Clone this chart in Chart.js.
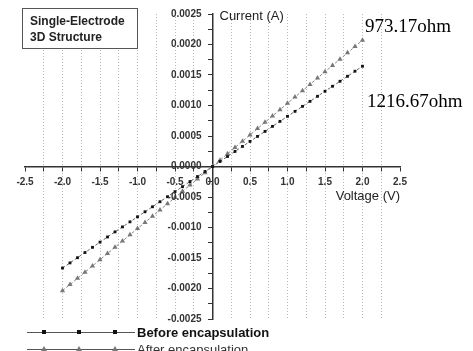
<!DOCTYPE html>
<html>
<head>
<meta charset="utf-8">
<script src="https://cdn.jsdelivr.net/npm/chart.js"></script>
<style>
  html, body { margin: 0; padding: 0; background: #fff; }
  #chart { display: block; }
</style>
</head>
<body>
<canvas id="chart" width="473" height="351"></canvas>
<script>
// voltage sweep (V)
const voltages = [
    -2.0, -1.9, -1.8, -1.7, -1.6, -1.5, -1.4, -1.3, -1.2, -1.1, -1.0,
    -0.9, -0.8, -0.7, -0.6, -0.5, -0.4, -0.3, -0.2, -0.1, 0.0,
    0.1, 0.2, 0.3, 0.4, 0.5, 0.6, 0.7, 0.8, 0.9, 1.0,
    1.1, 1.2, 1.3, 1.4, 1.5, 1.6, 1.7, 1.8, 1.9, 2.0
];

// current (A) before encapsulation (~1216.67 ohm)
const beforeCurrent = [
    -0.001665, -0.001580, -0.001495, -0.001410, -0.001325, -0.001240, -0.001155, -0.001072, -0.000990, -0.000907, -0.000825,
    -0.000742, -0.000660, -0.000577, -0.000495, -0.000412, -0.000330, -0.000247, -0.000165, -0.000082, 0.000000,
    0.000082, 0.000164, 0.000247, 0.000329, 0.000411, 0.000493, 0.000575, 0.000658, 0.000740, 0.000822,
    0.000904, 0.000986, 0.001068, 0.001151, 0.001233, 0.001315, 0.001397, 0.001479, 0.001562, 0.001644
];

// current (A) after encapsulation (~973.17 ohm)
const afterCurrent = [
    -0.002035, -0.001935, -0.001833, -0.001732, -0.001630, -0.001528, -0.001426, -0.001324, -0.001222, -0.001120, -0.001018,
    -0.000916, -0.000815, -0.000713, -0.000611, -0.000509, -0.000407, -0.000305, -0.000204, -0.000102, 0.000000,
    0.000104, 0.000207, 0.000311, 0.000414, 0.000518, 0.000621, 0.000725, 0.000828, 0.000932, 0.001035,
    0.001139, 0.001242, 0.001346, 0.001449, 0.001553, 0.001656, 0.001760, 0.001863, 0.001967, 0.002070
];

const xTickLabels = ['-2.5', '-2.0', '-1.5', '-1.0', '-0.5', '0.0', '0.5', '1.0', '1.5', '2.0', '2.5'];
const yTickLabels = ['-0.0025', '-0.0020', '-0.0015', '-0.0010', '-0.0005', '0.0000', '0.0005', '0.0010', '0.0015', '0.0020', '0.0025'];
const seriesNames = ['Before encapsulation', 'After encapsulation'];
const resistanceNotes = ['973.17ohm', '1216.67ohm'];

const FONT = "'Liberation Sans', Arial, sans-serif";
const SERIF = "'Liberation Serif', 'Times New Roman', serif";

function pairs(xs, ys) {
    return xs.map((x, i) => ({ x: x, y: ys[i] }));
}

// major ticks every 0.5 V / 0.0005 A, minor in between
function isMajor(v, step) {
    return Math.abs(v / step - Math.round(v / step)) < 1e-6;
}

// extra text: y labels, box, axis titles, resistance notes, legend
const decorations = {
    id: 'decorations',
    afterDraw(chart) {
        const ctx = chart.ctx;
        const xs = chart.scales.x;
        const ys = chart.scales.y;
        const x0 = xs.getPixelForValue(0);
        ctx.save();

        // y tick labels, left of the centred axis
        ctx.font = 'bold 10px ' + FONT;
        ctx.fillStyle = '#333';
        ctx.textAlign = 'right';
        ctx.textBaseline = 'middle';
        yTickLabels.forEach((lbl, i) => {
            const v = -0.0025 + i * 0.0005;
            ctx.fillText(lbl, x0 - 11, ys.getPixelForValue(v));
        });

        // title box
        ctx.fillStyle = '#fff';
        ctx.fillRect(22.5, 8.5, 115, 40);
        ctx.strokeStyle = '#555';
        ctx.lineWidth = 1;
        ctx.strokeRect(22.5, 8.5, 115, 40);
        ctx.fillStyle = '#222';
        ctx.font = 'bold 12px ' + FONT;
        ctx.textAlign = 'left';
        ctx.textBaseline = 'alphabetic';
        ctx.fillText('Single-Electrode', 30, 25);
        ctx.fillText('3D Structure', 30, 41);

        // axis titles
        ctx.font = '13px ' + FONT;
        ctx.fillStyle = '#222';
        ctx.textBaseline = 'middle';
        ctx.fillText('Current (A)', x0 + 7, ys.top + 2);
        ctx.textAlign = 'right';
        ctx.fillText('Voltage (V)', xs.right, ys.getPixelForValue(0) + 30);

        // resistance notes
        ctx.font = '19px ' + SERIF;
        ctx.fillStyle = '#000';
        ctx.textAlign = 'left';
        ctx.textBaseline = 'alphabetic';
        ctx.fillText(resistanceNotes[0], 365, 32);
        ctx.fillText(resistanceNotes[1], 367, 107);

        // legend
        const rows = [
            { y: 332, ds: chart.data.datasets[0] },
            { y: 349, ds: chart.data.datasets[1] }
        ];
        rows.forEach((row, i) => {
            ctx.strokeStyle = '#555';
            ctx.lineWidth = 1;
            ctx.setLineDash([]);
            ctx.beginPath();
            ctx.moveTo(27, row.y + 0.5);
            ctx.lineTo(135, row.y + 0.5);
            ctx.stroke();
            [44, 79, 115].forEach(mx => {
                ctx.fillStyle = row.ds.pointBackgroundColor;
                if (i === 0) {
                    ctx.fillRect(mx - 2, row.y - 2, 4, 4);
                } else {
                    ctx.beginPath();
                    ctx.moveTo(mx, row.y - 3);
                    ctx.lineTo(mx + 3, row.y + 2);
                    ctx.lineTo(mx - 3, row.y + 2);
                    ctx.closePath();
                    ctx.fill();
                }
            });
            ctx.fillStyle = i === 0 ? '#111' : '#333';
            ctx.font = (i === 0 ? 'bold ' : '') + '13px ' + FONT;
            ctx.textBaseline = 'middle';
            ctx.fillText(seriesNames[i], 137, row.y + 1);
        });

        ctx.restore();
    }
};

const ctx = document.getElementById('chart').getContext('2d');
new Chart(ctx, {
    type: 'line',
    data: {
        datasets: [
            {
                label: seriesNames[0],
                data: pairs(voltages, beforeCurrent),
                borderColor: '#666',
                borderWidth: 1,
                borderDash: [3, 2],
                pointStyle: 'rect',
                pointRadius: 2,
                pointBackgroundColor: '#111',
                pointBorderColor: '#111',
                pointBorderWidth: 0,
                tension: 0
            },
            {
                label: seriesNames[1],
                data: pairs(voltages, afterCurrent),
                borderColor: '#888',
                borderWidth: 1,
                borderDash: [3, 2],
                pointStyle: 'triangle',
                pointRadius: 3,
                pointBackgroundColor: '#777',
                pointBorderColor: '#777',
                pointBorderWidth: 0,
                tension: 0
            }
        ]
    },
    options: {
        responsive: false,
        animation: false,
        devicePixelRatio: 1,
        layout: { padding: { left: 25, right: 73, top: 14, bottom: 32 } },
        plugins: {
            legend: { display: false },
            tooltip: { enabled: false }
        },
        scales: {
            x: {
                type: 'linear',
                position: { y: 0 },
                min: -2.5,
                max: 2.5,
                grid: {
                    drawOnChartArea: true,
                    color: c => {
                        const v = c.tick ? c.tick.value : 0;
                        return (Math.abs(v) < 1e-6 || Math.abs(Math.abs(v) - 2.5) < 1e-6) ? 'rgba(0,0,0,0)' : '#b8b8b8';
                    },
                    tickColor: '#333',
                    tickLength: 4,
                    tickBorderDash: [],
                    lineWidth: 1
                },
                border: { display: true, color: '#333', width: 1.5, dash: [1, 2] },
                ticks: {
                    stepSize: 0.25,
                    autoSkip: false,
                    maxRotation: 0,
                    padding: 6,
                    color: '#333',
                    font: { family: FONT, size: 10, weight: 'bold' },
                    callback: v => isMajor(v, 0.5) ? xTickLabels[Math.round((v + 2.5) / 0.5)] : ''
                }
            },
            y: {
                type: 'linear',
                position: { x: 0 },
                min: -0.0025,
                max: 0.0025,
                grid: {
                    drawOnChartArea: false,
                    tickColor: '#333',
                    tickLength: 4
                },
                border: { display: true, color: '#333', width: 1.5 },
                ticks: {
                    stepSize: 0.00025,
                    autoSkip: false,
                    display: false
                }
            }
        }
    },
    plugins: [decorations]
});
</script>
</body>
</html>
